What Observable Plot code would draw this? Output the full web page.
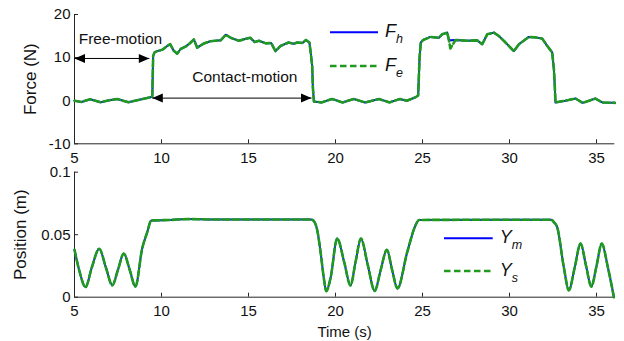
<!DOCTYPE html>
<html><head><meta charset="utf-8">
<script src="https://cdn.jsdelivr.net/npm/d3@7"></script>
<script src="https://cdn.jsdelivr.net/npm/@observablehq/plot@0.6"></script>
<style>
body{margin:0;background:#fff;}
#chart{position:relative;width:624px;height:341px;font-family:"Liberation Sans",Arial,Helvetica,sans-serif;background:#fff;}
#chart svg{position:absolute;left:0;}
</style></head><body><div id="chart"></div>
<script>
// ---- data ----
const xDomain = [5, 36.05];
const xTicks = [5, 10, 15, 20, 25, 30, 35];
const forceDomain = [-10, 20];
const forceTicks = [-10, 0, 10, 20];
const posDomain = [0, 0.1];
const posTicks = [0, 0.05, 0.1];

const forceTime = [5.0,5.4,5.9,6.5,7.0,7.45,8.1,8.6,8.98,9.37,9.47,9.52,9.6,9.75,10.04,10.33,10.5,10.7,10.9,11.1,11.4,11.6,11.86,12.05,12.4,12.8,13.1,13.4,13.7,13.97,14.44,14.8,15.1,15.35,15.6,16.0,16.3,16.55,16.84,17.3,17.6,17.8,18.1,18.3,18.5,18.58,18.66,18.7,18.76,19.2,19.8,20.4,21.05,21.7,22.5,23.1,23.7,24.1,24.6,24.75,24.83,24.9,25.04,25.46,25.94,26.13,26.42,26.51,26.6,26.9,27.57,28.14,28.43,28.72,29.1,29.39,29.77,30.25,30.54,31.11,31.45,31.88,32.17,32.45,32.55,32.6,32.64,33.2,33.8,34.2,34.94,35.33,36.05];
const forceFh = [0.0,-0.3,0.35,-0.35,0.1,0.4,-0.35,0.1,0.45,0.8,1.0,10.4,11.2,11.5,11.8,12.7,13.1,11.6,10.9,12.0,12.6,13.2,14.2,12.3,13.2,13.8,13.9,14.0,15.3,14.6,13.9,14.3,14.6,13.6,13.9,13.3,13.4,11.5,12.7,13.5,13.2,13.5,13.4,14.1,13.5,11.0,8.0,3.0,-0.2,-0.4,0.4,-0.4,0.4,-0.4,0.4,-0.4,0.4,0.0,0.8,1.2,10.0,13.5,14.1,14.8,14.6,15.4,15.8,14.2,14.0,14.1,13.9,14.0,13.1,15.4,15.8,15.0,13.5,11.5,13.1,14.8,14.7,14.4,12.7,11.2,7.3,3.5,-0.4,0.0,0.5,-0.5,0.5,-0.4,-0.5];
const forceFe = [0.0,-0.3,0.35,-0.35,0.1,0.4,-0.35,0.1,0.45,0.8,1.0,10.4,11.2,11.5,11.8,12.7,13.1,11.6,10.9,12.0,12.6,13.2,14.2,12.3,13.2,13.8,13.9,14.0,15.3,14.6,13.9,14.3,14.6,13.6,13.9,13.3,13.4,11.5,12.7,13.5,13.2,13.5,13.4,14.1,13.5,11.0,8.0,3.0,-0.2,-0.4,0.4,-0.4,0.4,-0.4,0.4,-0.4,0.4,0.0,0.8,1.2,10.0,13.5,14.1,14.8,14.6,15.4,15.8,14.2,12.1,14.1,13.9,14.0,13.1,15.4,15.8,15.0,13.5,11.5,13.1,14.8,14.7,14.4,12.7,11.2,7.3,3.5,-0.4,0.0,0.5,-0.5,0.5,-0.4,-0.5];

const posTime = [5.0,5.3,5.63,6.0,6.42,6.8,7.17,7.5,7.83,8.17,8.5,8.89,9.18,9.41,10.5,11.5,13.0,18.6,18.8,18.95,19.14,19.33,19.47,19.71,20.1,20.5,20.86,21.15,21.46,21.85,22.25,22.6,22.95,23.25,23.56,24.12,24.6,24.8,32.4,32.55,32.74,33.12,33.41,33.75,34.08,34.4,34.7,35.0,35.3,35.65,36.0];
const posYm = [0.038,0.02,0.008,0.024,0.0388,0.024,0.0095,0.022,0.035,0.022,0.0085,0.039,0.052,0.0614,0.0618,0.0625,0.0622,0.0622,0.060,0.0536,0.0363,0.015,0.0048,0.015,0.047,0.028,0.0094,0.028,0.047,0.026,0.005,0.022,0.038,0.022,0.007,0.036,0.0576,0.0618,0.0620,0.060,0.056,0.024,0.0055,0.024,0.043,0.025,0.0085,0.025,0.043,0.024,0.0];
const posYs = [0.038,0.02,0.008,0.024,0.0388,0.024,0.0095,0.022,0.035,0.022,0.0085,0.039,0.052,0.0614,0.0618,0.0625,0.0622,0.0622,0.060,0.0536,0.0363,0.015,0.0048,0.015,0.047,0.028,0.0094,0.028,0.047,0.026,0.005,0.022,0.038,0.022,0.007,0.036,0.0576,0.0618,0.0620,0.060,0.056,0.024,0.0055,0.024,0.043,0.025,0.0085,0.025,0.043,0.024,0.0];

const noteLabels = ["Free-motion", "Contact-motion"];
const noteX = [7.64, 14.79];
const noteY = [14.25, 5.6];
const arrowX1 = [5.0, 9.47];
const arrowX2 = [9.3, 18.62];
const arrowY = [9.8, 0.6];

// ---- tables ----
const forceRows = forceTime.map((t, i) => ({t, fh: forceFh[i], fe: forceFe[i]}));
const posRows = posTime.map((t, i) => ({t, ym: posYm[i], ys: posYs[i]}));
const notes = noteLabels.map((label, i) => ({label, x: noteX[i], y: noteY[i]}));
const arrows = arrowX1.map((x1, i) => ({x1, x2: arrowX2[i], y: arrowY[i]}));

const BLUE = "#0000ff", GREEN = "#1f9a1f", AXIS = "#262626";
const FONT = '"Liberation Sans", Arial, Helvetica, sans-serif';
const rightHead = {draw(c) { c.moveTo(0, 0); c.lineTo(-10.5, -4.5); c.lineTo(-10.5, 4.5); c.closePath(); }};
const leftHead = {draw(c) { c.moveTo(0, 0); c.lineTo(10.5, -4.5); c.lineTo(10.5, 4.5); c.closePath(); }};
const style = {fontSize: "15px", fontFamily: FONT, background: "transparent", overflow: "visible", color: AXIS};

const chart = document.getElementById("chart");

const topPlot = Plot.plot({
  width: 624, height: 165, marginLeft: 74, marginRight: 9.7, marginTop: 14, marginBottom: 21.7,
  style,
  x: {domain: xDomain}, y: {domain: forceDomain},
  marks: [
    Plot.ruleX([xDomain[0]], {stroke: AXIS}),
    Plot.ruleY([forceDomain[0]], {stroke: AXIS}),
    Plot.axisX({ticks: xTicks, tickSize: -4, tickPadding: 12.4, tickFormat: d => String(d), label: null, fill: "#111"}),
    Plot.axisY({ticks: forceTicks, tickSize: -4, tickPadding: 8, tickFormat: d => String(d), label: null, fill: "#111"}),
    Plot.line(forceRows, {x: "t", y: "fh", stroke: BLUE, strokeWidth: 2}),
    Plot.line(forceRows, {x: "t", y: "fe", stroke: GREEN, strokeWidth: 2.6, strokeDasharray: "7,3"}),
    Plot.link(arrows, {x1: "x1", x2: "x2", y1: "y", y2: "y", stroke: "black", strokeWidth: 1}),
    Plot.dot(arrows, {x: "x1", y: "y", symbol: leftHead, fill: "black", stroke: "none", r: 5}),
    Plot.dot(arrows, {x: "x2", y: "y", symbol: rightHead, fill: "black", stroke: "none", r: 5}),
    Plot.text(notes, {x: "x", y: "y", text: "label", fontSize: 15.5, fill: "#111", lineAnchor: "middle"}),
    Plot.text(["Force (N)"], {frameAnchor: "left", dx: -44, rotate: -90, textAnchor: "middle", lineAnchor: "middle", fontSize: 17, fill: "#111"})
  ]
});
topPlot.style.top = "0px";
chart.appendChild(topPlot);

const botPlot = Plot.plot({
  width: 624, height: 176, marginLeft: 74, marginRight: 9.7, marginTop: 6.7, marginBottom: 44.3,
  style,
  x: {domain: xDomain}, y: {domain: posDomain},
  marks: [
    Plot.ruleX([xDomain[0]], {stroke: AXIS}),
    Plot.ruleY([posDomain[0]], {stroke: AXIS}),
    Plot.axisX({ticks: xTicks, tickSize: -4, tickPadding: 12.4, tickFormat: d => String(d), label: null, fill: "#111"}),
    Plot.axisY({ticks: posTicks, tickSize: -4, tickPadding: 8, tickFormat: d => String(d), label: null, fill: "#111"}),
    Plot.line(posRows, {x: "t", y: "ym", stroke: BLUE, strokeWidth: 2, curve: "monotone-x"}),
    Plot.line(posRows, {x: "t", y: "ys", stroke: GREEN, strokeWidth: 2.6, strokeDasharray: "7,3", curve: "monotone-x"}),
    Plot.text(["Time (s)"], {frameAnchor: "bottom", dy: 35, lineAnchor: "middle", fontSize: 15, fill: "#111"}),
    Plot.text(["Position (m)"], {frameAnchor: "left", dx: -54, rotate: -90, textAnchor: "middle", lineAnchor: "middle", fontSize: 17, fill: "#111"})
  ]
});
botPlot.style.top = "165px";
chart.appendChild(botPlot);

// ---- legends ----
const legendItems = [
  {x1: 330, x2: 378, y: 32.3, main: "F", sub: "h", color: BLUE, dash: null, w: 2},
  {x1: 330, x2: 378, y: 66, main: "F", sub: "e", color: GREEN, dash: "6.5,3.5", w: 2.6},
  {x1: 444, x2: 492.7, y: 238.3, main: "Y", sub: "m", color: BLUE, dash: null, w: 2},
  {x1: 444, x2: 492.7, y: 271, main: "Y", sub: "s", color: GREEN, dash: "6.5,3.5", w: 2.6}
];
const leg = d3.create("svg").attr("width", 624).attr("height", 341)
  .style("top", "0px").style("pointer-events", "none").style("overflow", "visible");
for (const it of legendItems) {
  leg.append("line").attr("x1", it.x1).attr("x2", it.x2).attr("y1", it.y).attr("y2", it.y)
    .attr("stroke", it.color).attr("stroke-width", it.w).attr("stroke-dasharray", it.dash);
  const t = leg.append("text").attr("x", it.x2 + 7).attr("y", it.y + 4.5)
    .attr("font-family", FONT).attr("font-style", "italic").attr("fill", "#111");
  t.append("tspan").attr("font-size", 18).text(it.main);
  t.append("tspan").attr("font-size", 12.5).attr("dy", 6.5).text(it.sub);
}
chart.appendChild(leg.node());
</script></body></html>
